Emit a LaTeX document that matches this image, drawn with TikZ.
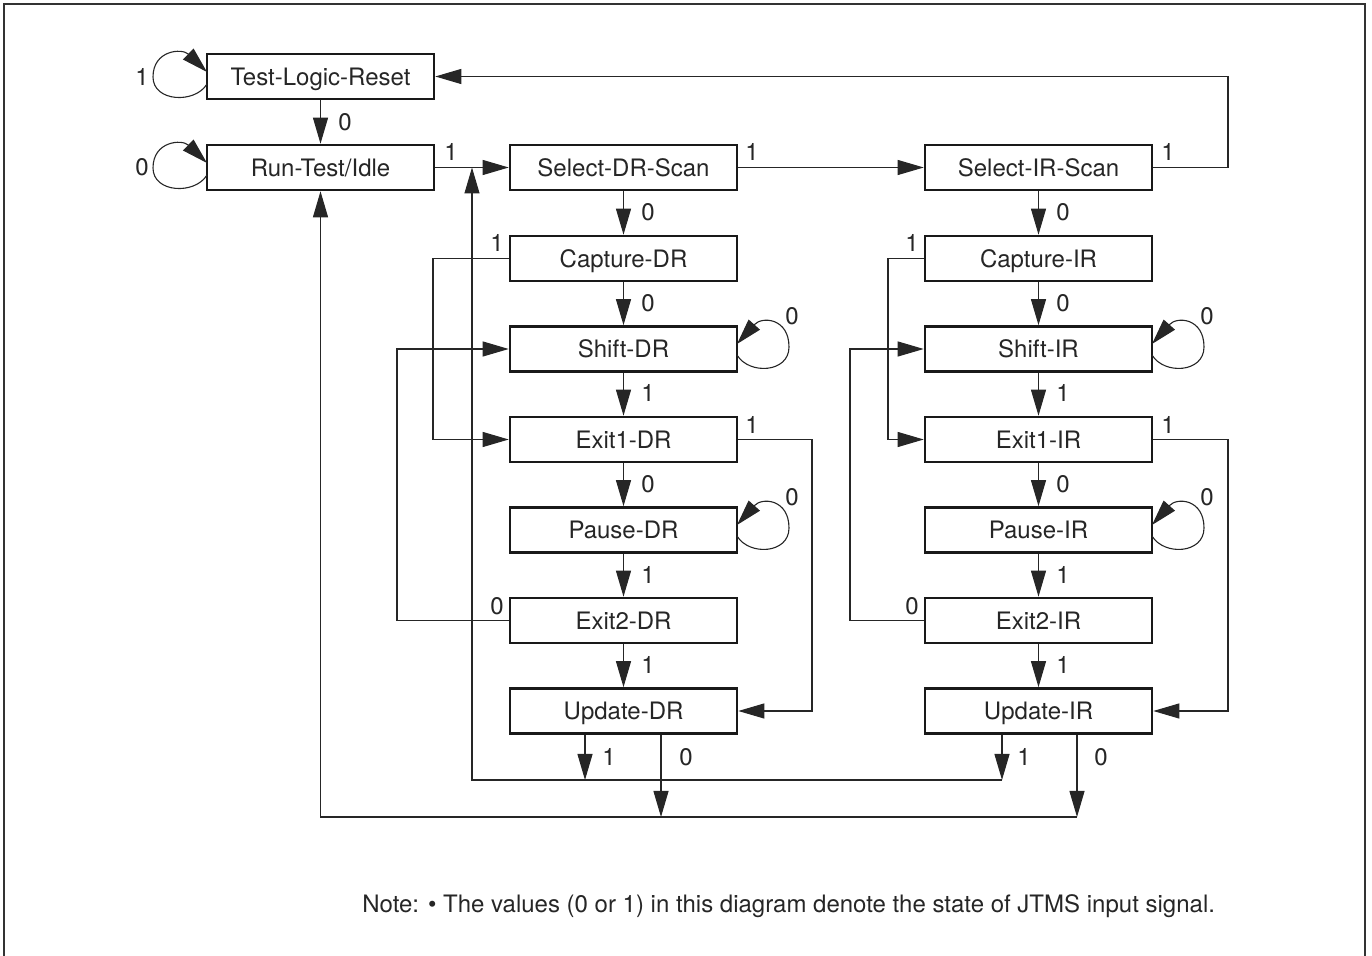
\documentclass[tikz,border=0pt]{standalone}
\usepackage{fontspec}
\setmainfont{TeX Gyre Heros}
\usetikzlibrary{arrows.meta}
\begin{document}
\begin{tikzpicture}[x=0.5pt,y=-0.5pt,
  font=\fontsize{12}{14}\selectfont,
  every node/.style={text=black!85},
  state/.style={draw=black!90,line width=1.3pt,minimum width=113.5pt,minimum height=22.5pt,inner sep=0pt,fill=white,text depth=0pt,text height=9pt},
  conn/.style={line width=0.55pt,draw=black!85},
  arr/.style={conn,-{Triangle[length=13pt,width=7.5pt]}},
  lbl/.style={inner sep=0pt}]
\useasboundingbox (0,0) rectangle (1372,956);
\draw[line width=0.8pt,black!80] (4,956) -- (4,4) -- (1365,4) -- (1365,956);

% states
\node[state] (tlr) at (320.5,76.5) {Test-Logic-Reset};
\node[state] (rti) at (320.5,167.5) {Run-Test/Idle};
\node[state] (sdr) at (623.5,167.5) {Select-DR-Scan};
\node[state] (cdr) at (623.5,258.5) {Capture-DR};
\node[state] (shdr) at (623.5,349) {Shift-DR};
\node[state] (edr1) at (623.5,439.5) {Exit1-DR};
\node[state] (pdr) at (623.5,530) {Pause-DR};
\node[state] (edr2) at (623.5,620.5) {Exit2-DR};
\node[state] (udr) at (623.5,711) {Update-DR};
\node[state] (sir) at (1038.5,167.5) {Select-IR-Scan};
\node[state] (cir) at (1038.5,258.5) {Capture-IR};
\node[state] (shir) at (1038.5,349) {Shift-IR};
\node[state] (eir1) at (1038.5,439.5) {Exit1-IR};
\node[state] (pir) at (1038.5,530) {Pause-IR};
\node[state] (eir2) at (1038.5,620.5) {Exit2-IR};
\node[state] (uir) at (1038.5,711) {Update-IR};

% vertical transitions
\draw[arr] (tlr) -- (rti);
\draw[arr] (sdr) -- (cdr);
\draw[arr] (cdr) -- (shdr);
\draw[arr] (shdr) -- (edr1);
\draw[arr] (edr1) -- (pdr);
\draw[arr] (pdr) -- (edr2);
\draw[arr] (edr2) -- (udr);
\draw[arr] (sir) -- (cir);
\draw[arr] (cir) -- (shir);
\draw[arr] (shir) -- (eir1);
\draw[arr] (eir1) -- (pir);
\draw[arr] (pir) -- (eir2);
\draw[arr] (eir2) -- (uir);
\node[lbl] (l01) at (345,122) {0};
\node[lbl] (l02) at (648,212) {0};
\node[lbl] (l03) at (648,303) {0};
\node[lbl] (l04) at (648,393) {1};
\node[lbl] (l05) at (648,484) {0};
\node[lbl] (l06) at (648,575) {1};
\node[lbl] (l07) at (648,665) {1};
\node[lbl] (l08) at (1063,212) {0};
\node[lbl] (l09) at (1063,303) {0};
\node[lbl] (l10) at (1063,393) {1};
\node[lbl] (l11) at (1063,484) {0};
\node[lbl] (l12) at (1063,575) {1};
\node[lbl] (l13) at (1063,665) {1};

% horizontal transitions
\draw[arr] (rti) -- (sdr);
\draw[arr] (sdr) -- (sir);
\coordinate (kr1) at (1228,167.5);
\coordinate (kr2) at (1228,76.5);
\draw[arr] (sir.east) -- (kr1) -- (kr2) -- (tlr.east);
\node[lbl] (l14) at (451,152) {1};
\node[lbl] (l15) at (752,152) {1};
\node[lbl] (l16) at (1168,152) {1};

% DR side loops
\coordinate (a1) at (433,258.5);
\coordinate (a2) at (433,439.5);
\draw[arr] (cdr.west) -- (a1) -- (a2) -- (edr1.west);
\coordinate (b1) at (397,620.5);
\coordinate (b2) at (397,349);
\draw[arr] (edr2.west) -- (b1) -- (b2) -- (shdr.west);
\coordinate (c1) at (812,439.5);
\coordinate (c2) at (812,711);
\draw[arr] (edr1.east) -- (c1) -- (c2) -- (udr.east);
\node[lbl] (l17) at (497,243) {1};
\node[lbl] (l18) at (497,606) {0};
\node[lbl] (l19) at (752,425) {1};

% IR side loops
\coordinate (d1) at (888,258.5);
\coordinate (d2) at (888,439.5);
\draw[arr] (cir.west) -- (d1) -- (d2) -- (eir1.west);
\coordinate (e1) at (850,620.5);
\coordinate (e2) at (850,349);
\draw[arr] (eir2.west) -- (e1) -- (e2) -- (shir.west);
\coordinate (f1) at (1228,439.5);
\coordinate (f2) at (1228,711);
\draw[arr] (eir1.east) -- (f1) -- (f2) -- (uir.east);
\node[lbl] (l20) at (912,243) {1};
\node[lbl] (l21) at (912,606) {0};
\node[lbl] (l22) at (1168,425) {1};

% self loops
\coordinate (tlrA) at (207,84);  \coordinate (tlrB) at (207,72);
\coordinate (rtiA) at (207,175); \coordinate (rtiB) at (207,163);
\draw[arr] (tlrA) .. controls (195,104) and (153,102) .. (153,77) .. controls (153,50) and (182,48) .. (tlrB);
\draw[arr] (rtiA) .. controls (195,195) and (153,193) .. (153,168) .. controls (153,141) and (182,139) .. (rtiB);
\coordinate (shdrA) at (737,355); \coordinate (shdrB) at (737,344);
\coordinate (pdrA) at (737,536);  \coordinate (pdrB) at (737,525);
\coordinate (shirA) at (1152,355); \coordinate (shirB) at (1152,344);
\coordinate (pirA) at (1152,536);  \coordinate (pirB) at (1152,525);
\draw[arr] (shdrA) .. controls (749,375) and (789,373) .. (789,347) .. controls (789,318) and (762,316) .. (shdrB);
\draw[arr] (pdrA) .. controls (749,556) and (789,554) .. (789,528) .. controls (789,499) and (762,497) .. (pdrB);
\draw[arr] (shirA) .. controls (1164,375) and (1204,373) .. (1204,347) .. controls (1204,318) and (1177,316) .. (shirB);
\draw[arr] (pirA) .. controls (1164,556) and (1204,554) .. (1204,528) .. controls (1204,499) and (1177,497) .. (pirB);
\node[lbl] (l23) at (142,77) {1};
\node[lbl] (l24) at (142,167) {0};
\node[lbl] (l25) at (792,316) {0};
\node[lbl] (l26) at (792,497) {0};
\node[lbl] (l27) at (1207,316) {0};
\node[lbl] (l28) at (1207,497) {0};

% update exits
\coordinate (g1) at (585,780);
\coordinate (g2) at (1002,780);
\coordinate (g3) at (472,780);
\coordinate (g4) at (472,167.5);
\draw[arr] (udr.south -| g1) -- (g1);
\draw[arr] (uir.south -| g2) -- (g2);
\draw[arr] (g2) -- (g3) -- (g4);
\coordinate (h1) at (661,817);
\coordinate (h2) at (1077,817);
\coordinate (h3) at (320.5,817);
\draw[arr] (udr.south -| h1) -- (h1);
\draw[arr] (uir.south -| h2) -- (h2);
\draw[arr] (h2) -- (h3) -- (rti.south);
\node[lbl] (l29) at (609,757) {1};
\node[lbl] (l30) at (686,757) {0};
\node[lbl] (l31) at (1024,757) {1};
\node[lbl] (l32) at (1101,757) {0};

% note
\node[anchor=west,inner sep=0pt] (note) at (362,906) {Note: \textbullet{} The values (0 or 1) in this diagram denote the state of JTMS input signal.};
\end{tikzpicture}
\end{document}
